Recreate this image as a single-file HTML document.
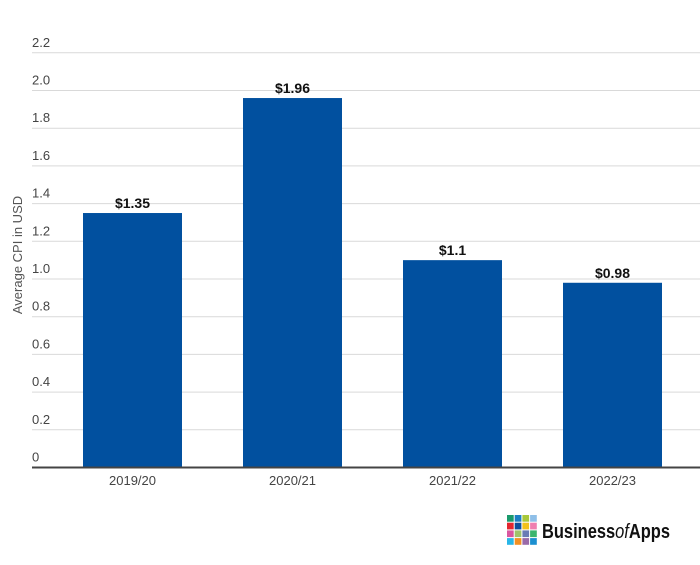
<!DOCTYPE html>
<html><head><meta charset="utf-8"><style>
body{margin:0;background:#fff;width:700px;height:560px;overflow:hidden;font-family:"Liberation Sans",sans-serif}
</style></head><body>
<svg width="700" height="560" xmlns="http://www.w3.org/2000/svg">
<g id="grid"></g>
<g id="bars"></g>
<g id="xl"></g>
<line x1="32" x2="700" y1="467.5" y2="467.5" stroke="#444" stroke-width="2"/>
<text x="22" y="255" transform="rotate(-90 22 255)" text-anchor="middle" font-size="13" fill="#555">Average CPI in USD</text>
<g id="logo"></g>
<text x="542" y="538" font-size="20" font-weight="bold" fill="#111" textLength="128" lengthAdjust="spacingAndGlyphs">Business<tspan font-style="italic" font-weight="normal">of</tspan>Apps</text>
</svg>
<script>
const categories=["2019/20","2020/21","2021/22","2022/23"];
const values=[1.35,1.96,1.1,0.98];
const valueLabels=["$1.35","$1.96","$1.1","$0.98"];
const yTicks=[0,0.2,0.4,0.6,0.8,1.0,1.2,1.4,1.6,1.8,2.0,2.2];
const yTickLabels=["0","0.2","0.4","0.6","0.8","1.0","1.2","1.4","1.6","1.8","2.0","2.2"];
const NS="http://www.w3.org/2000/svg";
const y0=467.5,ppu=37.7/0.2;
const yS=v=>y0-v*ppu;
const x0=52.5,band=160,bw=99;
const xS=i=>x0+band*i+band/2;
function mk(t,a,p){const e=document.createElementNS(NS,t);for(const k in a)e.setAttribute(k,a[k]);p.appendChild(e);return e;}
const g=document.getElementById('grid');
yTicks.forEach((v,i)=>{
 if(i>0){const l=mk('line',{x1:32,x2:700,y1:yS(v),y2:yS(v),stroke:'#d9d9d9','stroke-width':1},g);
 
 }
 const t=mk('text',{x:32,y:yS(v)-6,'font-size':13,fill:'#444'},g);t.textContent=yTickLabels[i];
 
 
});
const b=document.getElementById('bars'),xl=document.getElementById('xl');
categories.forEach((c,i)=>{
 const r=mk('rect',{x:xS(i)-bw/2,y:yS(values[i]),width:bw,height:y0-yS(values[i]),fill:'#01509f'},b);
 
 
 const t=mk('text',{x:xS(i),y:yS(values[i])-5,'text-anchor':'middle','font-size':14,'font-weight':'bold',fill:'#111'},b);t.textContent=valueLabels[i];
 
 
 const x=mk('text',{x:xS(i),y:485,'text-anchor':'middle','font-size':13,fill:'#444'},xl);x.textContent=c;
 
 
});
const cols=["#1a9a6c","#1b7fc4","#a8c83a","#8fbfe8","#e3262f","#0d4f9c","#f2c21b","#ef7fb0","#d957a0","#9fc46a","#6a7bb5","#3bb56e","#29b6e8","#f39022","#9a6aa8","#1b8fd0"];
const lg=document.getElementById('logo');
cols.forEach((c,i)=>{const s=mk('rect',{x:507+(i%4)*7.7,y:515+Math.floor(i/4)*7.7,width:6.7,height:6.7,fill:c},lg);
 
 });
</script>
</body></html>
